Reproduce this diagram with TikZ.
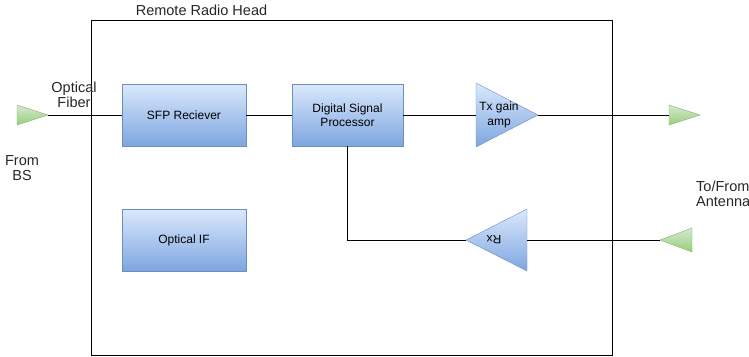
\documentclass[tikz,border=0pt]{standalone}
\usepackage{fontspec}
\setmainfont{Liberation Sans}
\definecolor{bfillA}{HTML}{DAE8FC}
\definecolor{bfillB}{HTML}{7EA6E0}
\definecolor{bstroke}{HTML}{6C8EBF}
\definecolor{gfillA}{HTML}{D5E8D4}
\definecolor{gfillB}{HTML}{97D077}
\definecolor{gstroke}{HTML}{82B366}
\begin{document}
\begin{tikzpicture}[x=1pt,y=-1pt,
  intext/.style={font=\fontsize{12}{14.5}\selectfont,align=center,inner sep=0pt},
  bluebox/.style={draw=bstroke,top color=bfillA,bottom color=bfillB,intext},
  bluetri/.style={draw=bstroke,top color=bfillA,bottom color=bfillB},
  greentri/.style={draw=gstroke,top color=gfillA,bottom color=gfillB},
  lbl/.style={font=\fontsize{14.5}{15.5}\selectfont,align=center,inner sep=0pt,text=black!85},
  wire/.style={draw=black,line width=0.8pt}]
\useasboundingbox (0,0) rectangle (749,356);
% outer box
\node[draw=black,line width=0.8pt,minimum width=521pt,minimum height=335pt,inner sep=0pt,anchor=north west] (rrh) at (91,20) {};
\node[lbl] (title) at (201.5,10) {Remote Radio Head};
% boxes
\node[bluebox,minimum width=124pt,minimum height=62pt] (sfp) at (184,115) {SFP Reciever};
\node[bluebox,minimum width=111pt,minimum height=62pt] (dsp) at (347.5,115) {Digital Signal\\Processor};
\node[bluebox,minimum width=124pt,minimum height=62pt] (oif) at (184,240) {Optical IF};
% Tx triangle
\coordinate (txin) at (476,115);
\coordinate (txout) at (538,115);
\path[bluetri] (476,83) -- (538,115) -- (476,147) -- cycle;
\node[intext] (txl) at (499,115) {Tx gain\\amp};
% Rx triangle
\coordinate (rxtip) at (466,240);
\coordinate (rxbase) at (527,240);
\path[bluetri] (527,209) -- (466,240) -- (527,271) -- cycle;
\node[intext,rotate=180] (rxl) at (494,240) {Rx};
% green triangles
\coordinate (inTip) at (48,115);
\path[greentri] (17,105) -- (48,115) -- (17,125) -- cycle;
\coordinate (outBase) at (669,115);
\path[greentri] (669,105) -- (700,115) -- (669,125) -- cycle;
\coordinate (antTip) at (660,240);
\path[greentri] (692,228) -- (660,240) -- (692,252) -- cycle;
% wires
\draw[wire] (inTip) -- (sfp.west);
\draw[wire] (sfp.east) -- (dsp.west);
\draw[wire] (dsp.east) -- (txin);
\draw[wire] (txout) -- (outBase);
\draw[wire] (dsp.south) |- (rxtip);
\draw[wire] (rxbase) -- (antTip);
% labels
\node[lbl] (of) at (74,95) {Optical\\Fiber};
\node[lbl] (bs) at (22,168) {From\\BS};
\node[lbl,anchor=west,align=left] (ant) at (696,194) {To/From\\Antenna};
\end{tikzpicture}
\end{document}
